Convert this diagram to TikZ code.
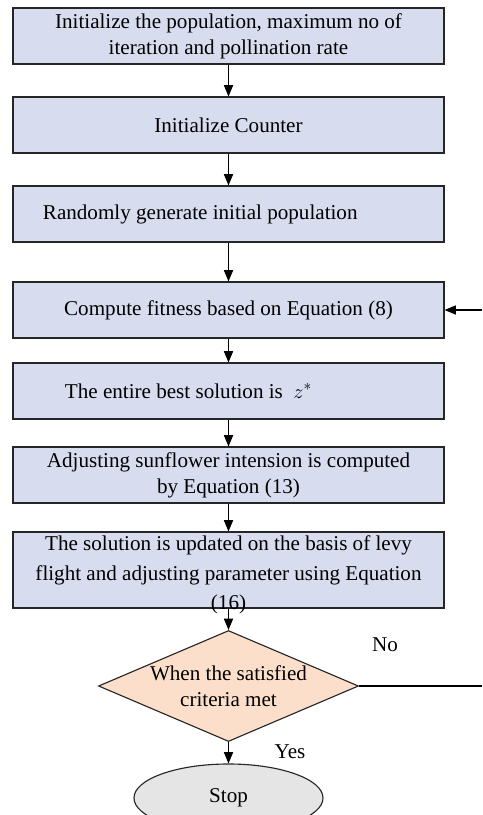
\documentclass[tikz,border=0pt]{standalone}
\usepackage{fontspec}
\setmainfont{Liberation Serif}
\usetikzlibrary{shapes.geometric,arrows.meta,shadows}
\definecolor{boxfill}{RGB}{215,220,239}
\definecolor{decfill}{RGB}{252,223,202}
\definecolor{stopfill}{RGB}{229,229,229}
\tikzset{
  procbox/.style={draw=black!85, fill=boxfill, line width=0.8pt,
    minimum width=10.775cm, minimum height=1.4cm, align=center, inner sep=2pt,
    drop shadow={shadow xshift=0.7pt, shadow yshift=-0.9pt, fill=blue!25!gray, opacity=0.35}},
  decision/.style={diamond, draw=black!85, fill=decfill, line width=0.8pt, aspect=2.35,
    minimum width=6.5cm, minimum height=2.775cm, inner sep=0pt, align=center},
  terminal/.style={ellipse, draw=black!85, fill=stopfill, line width=0.8pt,
    minimum width=4.725cm, minimum height=1.7cm},
  flow/.style={-{Triangle[length=8pt,width=6.5pt]}, line width=0.8pt},
  plain/.style={line width=0.8pt}
}
\begin{document}
\begin{tikzpicture}[x=0.025cm, y=-0.025cm, font=\fontsize{15}{18.5}\selectfont]
  \useasboundingbox (0,0) rectangle (482,815);
  % process steps
  \node[procbox] (init) at (228.5,36) {Initialize the population, maximum no of\\ iteration and pollination rate};
  \node[procbox] (counter) at (228.5,125) {Initialize Counter};
  \node[procbox, align=flush left, inner xsep=0.75cm, text width=9.275cm] (rand) at (228.5,214) {Randomly generate initial population};
  \node[procbox] (fit) at (228.5,310) {Compute fitness based on Equation (8)};
  \node[procbox, align=flush left, inner xsep=1.3cm, text width=8.175cm] (best) at (228.5,391) {The entire best solution is~~$z^{*}$};
  \node[procbox] (adj) at (228.5,475) {Adjusting sunflower intension is computed\\ by Equation (13)};
  \node[procbox, minimum height=1.9cm] (upd) at (228.5,570) {};
  \node[align=center] (upd-txt) at (228.5,575) {The solution is updated on the basis of levy\\[2.5pt] flight and adjusting parameter using Equation\\[2.5pt] (16)};
  % test and end
  \node[decision] (crit) at (228.5,686) {When the satisfied\\ criteria met};
  \node[terminal] (stop) at (228.5,798) {Stop};
  \coordinate (loopin) at (482,310);
  \coordinate (loopout) at (482,686);
  \draw[flow] (init) -- (counter);
  \draw[flow] (counter) -- (rand);
  \draw[flow] (rand) -- (fit);
  \draw[flow] (fit) -- (best);
  \draw[flow] (best) -- (adj);
  \draw[flow] (adj) -- (upd);
  \draw[flow] (upd) -- (crit);
  \draw[flow] (crit) -- (stop);
  \draw[plain] (crit.east) -- (loopout);
  \draw[flow] (loopin) -- (fit.east);
  \node (no) at (385,645) {No};
  \node (yes) at (290,752) {Yes};
\end{tikzpicture}
\end{document}
